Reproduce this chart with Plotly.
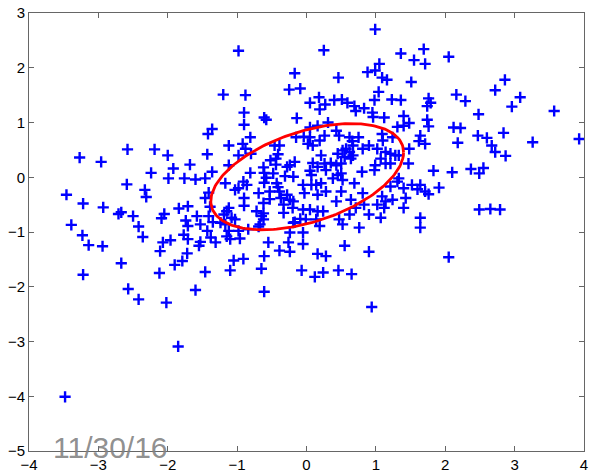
import numpy as np
import plotly.graph_objects as go

# ---- data (data units) ----
left_pts = [(-3.27,0.36),(-2.96,0.28),(-2.58,0.51),(-2.19,0.51),(-2.00,0.40),
    (-2.24,0.08),(-1.92,0.16),(-1.99,-0.02),(-2.59,-0.13),(-2.33,-0.23),(-2.31,-0.36),
    (-3.46,-0.32),(-3.22,-0.48),(-2.93,-0.55),(-2.71,-0.67),(-2.67,-0.64),(-2.50,-0.71),
    (-2.05,-0.67),(-2.09,-0.75),(-1.84,-0.57),(-3.39,-0.87),(-3.23,-1.06),(-3.14,-1.24),
    (-2.94,-1.26),(-2.42,-0.90),(-2.36,-1.09),(-2.07,-1.19),(-1.96,-1.15),(-2.11,-1.35),
    (-2.67,-1.57),(-3.22,-1.78),(-2.12,-1.75),(-1.90,-1.60),(-2.57,-2.04),(-2.42,-2.23),
    (-2.02,-2.29),(-1.68,0.23),(-1.76,-0.02),(-1.71,-0.53),(-1.74,-0.79),(-1.71,-0.89),
    (-1.77,-1.05),(-1.71,-1.13),(-1.72,-1.39),(-1.79,-1.53),(-1.85,-3.09),(-3.48,-4.01)]

bottom_pts = [(-1.46,-1.73),(-1.10,-1.70),(-0.65,-1.67),(-1.60,-2.06),(-0.61,-2.09),
    (-0.07,-1.70),(0.94,-2.37),(0.12,-1.82),(0.24,-1.74),(0.46,-1.70),(0.65,-1.77)]

top_pts = [(-0.98,2.31),(-0.17,1.90),(0.99,2.70),(0.25,2.32),(1.36,2.26),(1.69,2.34),
    (1.55,2.14),(1.71,2.07),(1.05,2.07),(0.99,1.95),(0.88,1.92),(0.46,1.82),(1.09,1.82),
    (1.16,1.78),(1.51,1.74)]

right_pts = [(2.05,2.20),(2.86,1.78),(2.72,1.59),(2.16,1.51),(2.29,1.39),(3.08,1.46),
    (2.96,1.29),(3.57,1.21),(2.48,1.15),(2.12,0.91),(2.22,0.90),(2.84,0.81),(2.47,0.76),
    (2.60,0.72),(2.18,0.63),(3.26,0.64),(3.93,0.70),(2.67,0.58),(2.72,0.46),(2.87,0.39),
    (1.76,1.44),(1.79,1.36),(1.74,1.30),(1.74,1.05),(1.76,0.93),(1.71,0.61),
    (1.83,0.12),(1.91,-0.19),(1.76,-0.31),(1.71,-0.26),
    (2.10,0.09),(2.37,0.15),(2.49,0.07),(2.55,0.17),(2.49,-0.59),(2.65,-0.58),(2.79,-0.59),
    (2.05,-1.46)]

core_left = [(-0.25,1.60),(-0.09,1.62),(-1.20,1.51),(-0.88,1.50),(-0.90,1.18),(-0.61,1.09),
    (-0.58,1.05),(-0.14,1.08),(-0.90,0.96),(-1.36,0.88),(-1.42,0.79),(-0.81,0.73),
    (-0.15,0.73),(-0.04,0.74),(-1.12,0.58),(-0.92,0.61),(-0.88,0.52),(-0.46,0.58),
    (-0.39,0.58),(-1.43,0.42),(-0.98,0.40),(-0.80,0.43),(-0.41,0.42),(-0.44,0.34),
    (-1.12,0.22),(-0.52,0.31),(-0.44,0.23),(-0.62,0.18),(-0.24,0.22),(-0.17,0.28),
    (-0.28,0.19),(-1.36,0.10),(-0.81,0.08),(-0.61,0.08),(-0.48,0.07),(-0.31,0.02),
    (-0.19,0.01),(-0.58,-0.01),(-1.46,-0.02),(-1.60,-0.04),(-1.17,-0.11),(-0.91,-0.08),
    (-0.86,-0.14),(-0.61,-0.10),(-0.43,-0.11),(-0.41,-0.18),(-0.05,-0.14),(-1.41,-0.28),
    (-1.03,-0.23),(-0.98,-0.20),(-0.69,-0.29),(-0.53,-0.26),(-0.39,-0.26),(-0.37,-0.38),
    (-0.28,-0.32),(-0.24,-0.41),(-0.19,-0.44),(-0.03,-0.29),(-1.46,-0.38),(-0.90,-0.38),
    (-0.62,-0.47),(-0.53,-0.40),(-0.33,-0.50),(-1.39,-0.54),(-1.12,-0.56),(-1.15,-0.62),
    (-0.90,-0.52),(-0.72,-0.62),(-0.62,-0.66),(-0.33,-0.65),(-0.20,-0.56),(-0.05,-0.59),
    (-1.58,-0.71),(-1.41,-0.71),(-1.19,-0.68),(-1.08,-0.74),(-1.03,-0.77),(-0.65,-0.71),
    (-0.62,-0.77),(-0.09,-0.76),(-0.01,-0.77),(-0.17,-0.82),(-1.53,-0.86),(-1.35,-0.82),
    (-1.24,-0.83),(-1.17,-0.86),(-0.67,-0.86),(-0.69,-0.90),(-0.19,-0.83),(-1.43,-0.98),
    (-1.12,-0.98),(-0.98,-0.98),(-0.84,-0.95),(-0.24,-1.01),(-0.05,-1.01),(-1.38,-1.10),
    (-1.53,-1.18),(-1.55,-1.25),(-1.31,-1.19),(-1.15,-1.08),(-1.10,-1.13),(-0.96,-1.12),
    (-0.55,-1.19),(-0.26,-1.19),(-0.05,-1.22),(-1.05,-1.52),(-0.91,-1.49),(-0.61,-1.44),
    (-0.39,-1.34),(-0.24,-1.36)]

core_right = [(1.04,1.56),(0.18,1.46),(0.05,1.36),(0.19,1.24),(0.27,1.33),(0.40,1.41),
    (0.51,1.42),(0.59,1.36),(0.69,1.30),(0.71,1.21),(0.83,1.26),(0.98,1.41),(0.95,1.18),
    (1.23,1.42),(1.36,1.41),(1.40,1.12),(1.48,0.99),(1.40,0.94),(1.12,1.09),(0.96,1.10),
    (0.31,1.00),(0.16,0.94),(0.05,0.91),(0.43,0.85),(0.47,0.76),(0.26,0.76),(0.05,0.73),
    (0.19,0.67),(0.62,0.73),(0.75,0.73),(0.66,0.66),(1.31,0.92),(1.24,0.73),(1.09,0.79),
    (1.10,0.67),(1.64,0.76),(1.62,0.66),(0.02,0.61),(0.09,0.58),(0.67,0.58),(0.81,0.52),
    (0.90,0.58),(1.02,0.52),(1.14,0.46),(1.21,0.43),(1.28,0.40),(1.48,0.52),(0.21,0.40),
    (0.45,0.43),(0.52,0.49),(0.57,0.52),(0.62,0.46),(0.67,0.40),(0.55,0.37),(0.64,0.34),
    (0.50,0.25),(0.43,0.22),(0.26,0.25),(0.35,0.26),(0.09,0.26),(0.16,0.19),(0.05,0.12),
    (0.07,0.04),(0.28,0.13),(0.99,0.22),(1.07,0.34),(1.14,0.25),(1.21,0.25),(1.33,0.40),
    (1.47,0.25),(0.80,0.10),(0.98,0.13),(0.07,-0.14),(0.14,-0.14),(0.21,-0.11),(0.38,-0.02),
    (0.45,0.04),(0.50,0.07),(0.52,-0.05),(0.69,-0.11),(1.21,-0.17),(1.31,-0.08),(1.33,-0.02),
    (1.40,-0.20),(1.52,-0.14),(1.60,-0.22),(1.64,-0.14),(0.16,-0.32),(0.28,-0.26),
    (0.50,-0.26),(0.81,-0.29),(1.09,-0.35),(1.24,-0.41),(1.14,-0.44),(1.43,-0.38),
    (0.43,-0.44),(0.64,-0.41),(0.05,-0.59),(0.16,-0.62),(0.24,-0.62),(0.71,-0.56),
    (0.83,-0.50),(1.02,-0.50),(1.12,-0.56),(1.40,-0.56),(0.90,-0.68),(0.62,-0.68),
    (0.14,-0.77),(0.47,-0.77),(0.52,-0.86),(0.19,-0.89),(0.76,-0.92),(1.07,-0.74),
    (1.64,-0.74),(1.64,-0.92),(0.55,-1.25),(0.16,-1.40),(0.28,-1.44),(0.90,-1.36)]

# covariance ellipse drawn over the points
ellipse_center = (0.01, 0.01)
ellipse_cov = [[1.93, 0.62], [0.62, 0.94]]

x_ticks = [-4, -3, -2, -1, 0, 1, 2, 3, 4]
y_ticks = [-5, -4, -3, -2, -1, 0, 1, 2, 3]
date_label = "11/30/16"

# ---- figure ----
all_pts = left_pts + bottom_pts + top_pts + right_pts + core_left + core_right
xs = [p[0] for p in all_pts]
ys = [p[1] for p in all_pts]

fig = go.Figure()
fig.add_trace(go.Scatter(
    x=xs, y=ys, mode="markers",
    marker=dict(symbol="cross-thin", size=8, color="#0000ff",
                line=dict(width=2.4, color="#0000ff")),
    hoverinfo="skip"))

L = np.linalg.cholesky(np.array(ellipse_cov))
t = np.linspace(0, 2 * np.pi, 200)
circ = np.vstack([np.cos(t), np.sin(t)])
ell = L @ circ
fig.add_trace(go.Scatter(
    x=ell[0] + ellipse_center[0], y=ell[1] + ellipse_center[1],
    mode="lines", line=dict(color="#ff0000", width=2.8), hoverinfo="skip"))

axis_common = dict(showgrid=False, zeroline=False, ticks="inside", ticklen=5,
                   tickcolor="#666666", showline=True, linecolor="#666666",
                   linewidth=1, mirror="ticks", ticklabeloverflow="allow",
                   tickfont=dict(family="Liberation Sans, Arial, sans-serif",
                                 size=15, color="#000000"))

fig.update_layout(
    width=590, height=475,
    margin=dict(l=29, r=2, t=13, b=21),
    paper_bgcolor="white", plot_bgcolor="white",
    showlegend=False,
    xaxis=dict(range=[-4, 4], tickvals=x_ticks,
               ticktext=[str(v).replace("-", "\u2212") for v in x_ticks], **axis_common),
    yaxis=dict(range=[-5, 3], tickvals=y_ticks,
               ticktext=[str(v).replace("-", "\u2212") for v in y_ticks], **axis_common),
)

fig.add_annotation(text=date_label, xref="paper", yref="paper",
                   x=0.147, y=0.009, xanchor="center", yanchor="middle",
                   showarrow=False,
                   font=dict(family="Liberation Sans, Arial, sans-serif",
                             size=30, color="rgba(130,130,130,0.9)"))

fig.write_html("out.html")
